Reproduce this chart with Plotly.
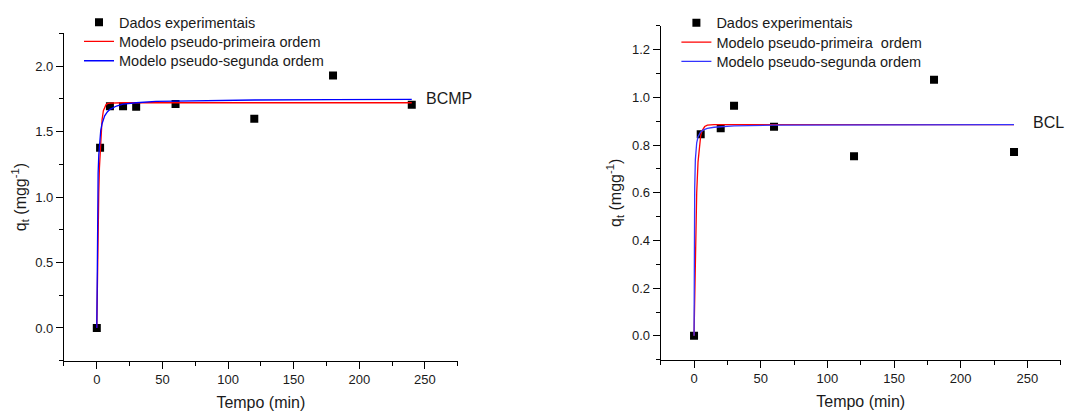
import plotly.graph_objects as go

# ---- data ----
bcmp_t = [0, 2.5, 10, 20, 30, 60, 120, 180, 240]
bcmp_q = [0.0, 1.376, 1.694, 1.694, 1.69, 1.71, 1.598, 1.929, 1.705]

bcmp_pfo_t = [0, 0.5, 1, 1.5, 2, 3, 4, 5, 6, 7, 8, 10, 20, 60, 120, 240]
bcmp_pfo_q = [0, 0.45, 0.78, 1.03, 1.22, 1.46, 1.59, 1.66, 1.69, 1.705, 1.713, 1.718, 1.72, 1.72, 1.72, 1.72]

bcmp_pso_t = [0, 0.25, 0.5, 1, 1.5, 2, 3, 4, 5, 6, 8, 10, 15, 20, 30, 45, 60, 90, 120, 180, 240]
bcmp_pso_q = [0, 0.55, 0.88, 1.18, 1.32, 1.41, 1.51, 1.56, 1.6, 1.62, 1.65, 1.67, 1.695, 1.71, 1.72,
              1.73, 1.733, 1.738, 1.741, 1.744, 1.746]

bcl_t = [0, 5, 20, 30, 60, 120, 180, 240]
bcl_q = [0.0, 0.846, 0.871, 0.965, 0.877, 0.753, 1.074, 0.771]

bcl_pfo_t = [0, 0.5, 1, 1.5, 2, 3, 4, 5, 6, 8, 10, 15, 240]
bcl_pfo_q = [0, 0.2, 0.37, 0.5, 0.6, 0.73, 0.8, 0.84, 0.86, 0.878, 0.884, 0.886, 0.886]

bcl_pso_t = [0, 0.25, 0.5, 1, 2, 3, 4, 5, 7, 10, 15, 20, 30, 60, 120, 240]
bcl_pso_q = [0, 0.45, 0.62, 0.74, 0.81, 0.835, 0.848, 0.855, 0.864, 0.87, 0.875, 0.878, 0.881, 0.884, 0.885, 0.886]

x_ticks = [0, 50, 100, 150, 200, 250]
FONT = "Arial, Liberation Sans, sans-serif"
TXT = "#1a1a1a"
W, H = 1081, 412

fig = go.Figure()

# left panel
fig.add_trace(go.Scatter(x=bcmp_t, y=bcmp_q, mode="markers", name="Dados experimentais",
                         marker=dict(symbol="square", size=8, color="black"), showlegend=True,
                         xaxis="x", yaxis="y", legend="legend"))
fig.add_trace(go.Scatter(x=bcmp_pfo_t, y=bcmp_pfo_q, mode="lines", name="Modelo pseudo-primeira ordem",
                         line=dict(color="#ff0000", width=1.3), showlegend=True,
                         xaxis="x", yaxis="y", legend="legend2"))
fig.add_trace(go.Scatter(x=bcmp_pso_t, y=bcmp_pso_q, mode="lines", name="Modelo pseudo-segunda ordem",
                         line=dict(color="#0000ff", width=1.3), showlegend=True,
                         xaxis="x", yaxis="y", legend="legend3"))

# right panel
fig.add_trace(go.Scatter(x=bcl_t, y=bcl_q, mode="markers", name="Dados experimentais",
                         marker=dict(symbol="square", size=8, color="black"), showlegend=True,
                         xaxis="x2", yaxis="y2", legend="legend4"))
fig.add_trace(go.Scatter(x=bcl_pfo_t, y=bcl_pfo_q, mode="lines", name="Modelo pseudo-primeira\u00a0 ordem",
                         line=dict(color="#ff0000", width=1.3), showlegend=True,
                         xaxis="x2", yaxis="y2", legend="legend5"))
fig.add_trace(go.Scatter(x=bcl_pso_t, y=bcl_pso_q, mode="lines", name="Modelo pseudo-segunda ordem",
                         line=dict(color="#3333ff", width=1.3), showlegend=True,
                         xaxis="x2", yaxis="y2", legend="legend6"))

axis_common = dict(showline=True, linecolor="black", linewidth=1.2, ticks="outside", ticklen=7,
                   tickwidth=1.1, tickcolor="black", showgrid=False, zeroline=False,
                   tickfont=dict(size=13, color=TXT, family=FONT))


def leg(xpx, ycenter):
    return dict(x=xpx / W, y=1 - (ycenter - 16.5) / H, xanchor="left", yanchor="top", visible=True,
                bgcolor="rgba(0,0,0,0)", font=dict(size=14.5, color=TXT, family=FONT))


fig.update_layout(
    width=W, height=H,
    margin=dict(l=0, r=0, t=0, b=0),
    showlegend=True,
    paper_bgcolor="white", plot_bgcolor="white",
    font=dict(family=FONT, color=TXT, size=13),
    xaxis=dict(domain=[0.0592, 0.4234], range=[-25, 275], tickvals=x_ticks,
               minor=dict(ticks="outside", ticklen=4, tick0=-25, dtick=50, tickcolor="black"),
               title=dict(text="Tempo (min)", font=dict(size=16, color=TXT), standoff=10),
               anchor="y", **axis_common),
    yaxis=dict(domain=[0.1245, 0.919], range=[-0.25, 2.25], tick0=0, dtick=0.5, tickformat=".1f",
               minor=dict(ticks="outside", ticklen=4, tick0=0.25, dtick=0.5, tickcolor="black"),
               title=dict(text="q<sub>t</sub> (mgg<sup>-1</sup>)", font=dict(size=16, color=TXT), standoff=4),
               anchor="x", **axis_common),
    xaxis2=dict(domain=[0.6112, 0.9812], range=[-25, 275], tickvals=x_ticks,
                minor=dict(ticks="outside", ticklen=4, tick0=-25, dtick=50, tickcolor="black"),
                title=dict(text="Tempo (min)", font=dict(size=16, color=TXT), standoff=10),
                anchor="y2", **axis_common),
    yaxis2=dict(domain=[0.127, 0.937], range=[-0.1, 1.3], tick0=0, dtick=0.2, tickformat=".1f",
                minor=dict(ticks="outside", ticklen=4, tick0=0.1, dtick=0.2, tickcolor="black"),
                title=dict(text="q<sub>t</sub> (mgg<sup>-1</sup>)", font=dict(size=16, color=TXT), standoff=6),
                anchor="x2", **axis_common),
    legend=leg(79, 22.7),
    legend2=leg(79, 42.0),
    legend3=leg(79, 61.3),
    legend4=leg(676.4, 23.3),
    legend5=leg(676.4, 42.7),
    legend6=leg(676.4, 62.0),
    annotations=[
        dict(text="BCMP", x=249, y=1.75, xref="x", yref="y", xanchor="left", yanchor="middle",
             showarrow=False, font=dict(size=16, color=TXT)),
        dict(text="BCL", x=252.6, y=0.897, xref="x2", yref="y2", xanchor="left", yanchor="middle",
             showarrow=False, font=dict(size=16, color=TXT)),
    ],
)

fig.write_html("out.html", config={"displayModeBar": False},
               post_script="document.body.style.margin='0';")
